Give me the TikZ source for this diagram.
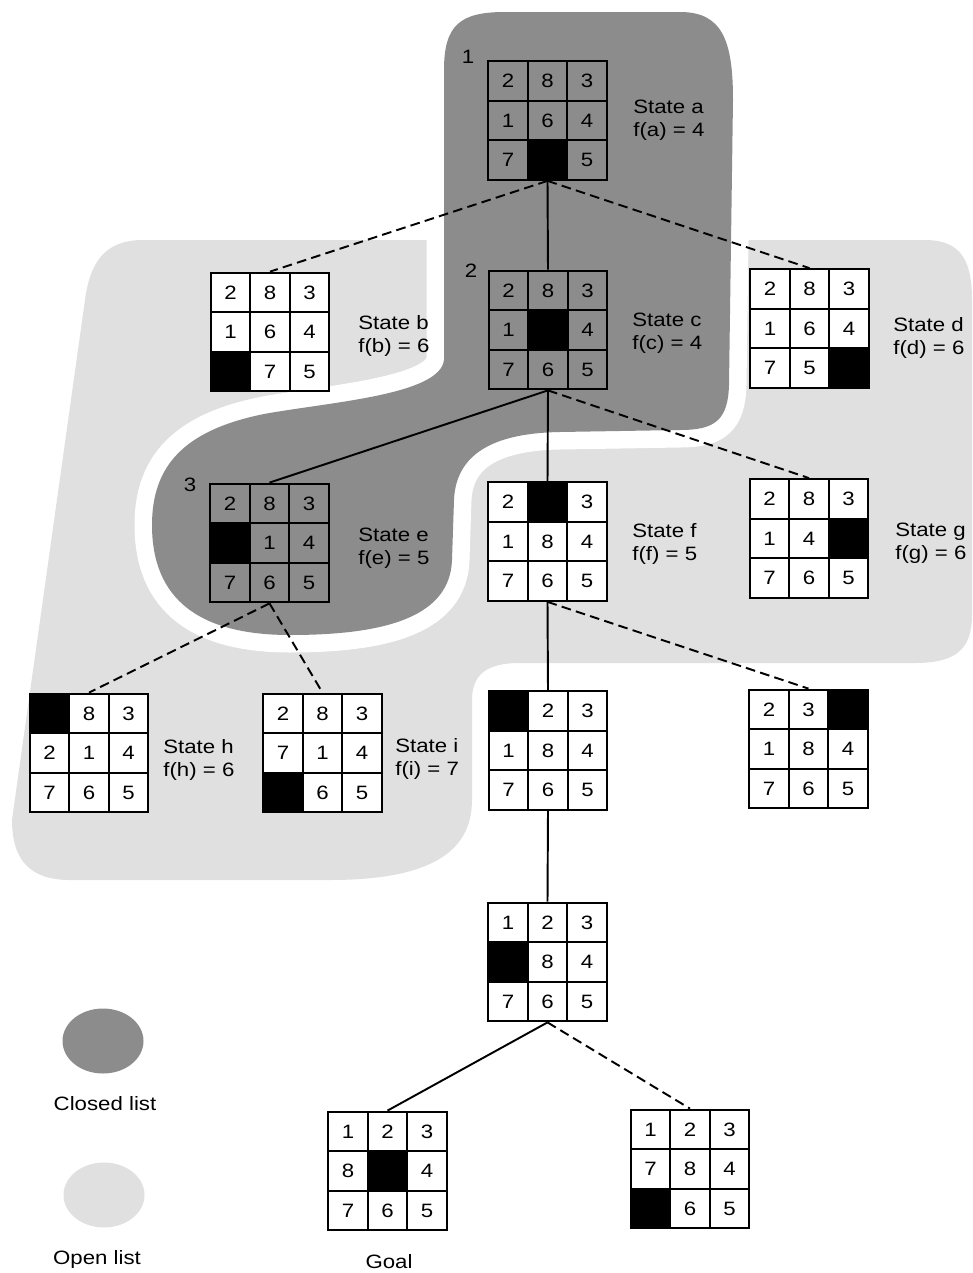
\documentclass[tikz,border=0pt]{standalone}
\usepackage{fontspec}
\setmainfont[FakeStretch=1.15]{Liberation Sans}
\usetikzlibrary{shapes.geometric, positioning, calc}
\definecolor{closedgray}{gray}{0.55}
\definecolor{opengray}{gray}{0.88}

% one 8-puzzle board: name, centre, background, nine tiles (0 = blank)
\newcommand{\board}[4]{%
  \node[board, fill=#3] (#1) at #2 {};
  \foreach \tileval [count=\k from 0] in {#4} {
    \pgfmathtruncatemacro\bcol{mod(\k,3)-1}
    \pgfmathtruncatemacro\brow{1-div(\k,3)}
    \ifnum\tileval=0
      \node[tile, fill=black] at ([xshift=\bcol*0.79cm, yshift=\brow*0.79cm]#1.center) {};
    \else
      \node[tile] at ([xshift=\bcol*0.79cm, yshift=\brow*0.79cm]#1.center) {\tileval};
    \fi
  }%
}

\begin{document}
\begin{tikzpicture}[x=0.2mm, y=-0.2mm,
  board/.style={draw, line width=1.3pt, minimum size=2.37cm, inner sep=0pt},
  tile/.style={draw, line width=0.9pt, minimum size=0.79cm, inner sep=0pt,
    font=\fontsize{11}{13}\selectfont},
  statelbl/.style={anchor=west, align=left, inner sep=0pt,
    font=\fontsize{11}{13}\selectfont},
  numlbl/.style={inner sep=0pt, font=\fontsize{11}{13}\selectfont},
  solidedge/.style={line width=1.1pt},
  dashedge/.style={line width=1.1pt, dash pattern=on 5.5pt off 3pt},
  keyblob/.style={ellipse, inner sep=0pt, minimum width=1.62cm, minimum height=1.3cm}
]
\useasboundingbox (0,0) rectangle (972,1273);
% Open list
\fill[opengray] (143,240) -- (925,240) .. controls (962,240) and (972,262) .. (972,300)
  -- (972,615) .. controls (972,650) and (955,663) .. (915,663)
  -- (520,663) .. controls (490,663) and (472,672) .. (472,700)
  -- (472,800) .. controls (472,852) and (430,880) .. (330,880)
  -- (70,880) .. controls (30,880) and (12,860) .. (12,820)
  -- (85,300) .. controls (90,262) and (105,240) .. (143,240) -- cycle;
% Closed list (white margin round it)
\path[fill=closedgray, preaction={draw=white, line width=0.7cm}]
  (444,70) .. controls (444,25) and (460,12) .. (505,12)
  -- (680,12) .. controls (722,12) and (733,40) .. (733,100)
  -- (729,385) .. controls (728,420) and (715,430) .. (680,430)
  -- (560,432) .. controls (500,433) and (456,450) .. (454,500)
  -- (452,560) .. controls (450,615) and (390,635) .. (290,635)
  .. controls (200,635) and (152,600) .. (152,525)
  .. controls (152,465) and (185,430) .. (264,414)
  .. controls (330,402) and (440,395) .. (444,360) -- cycle;
% Boards
\board{a}{(547.5,120.5)}{none}{2,8,3,1,6,4,7,0,5}
\board{b}{(270,332)}{white}{2,8,3,1,6,4,0,7,5}
\board{c}{(548,330)}{none}{2,8,3,1,0,4,7,6,5}
\board{d}{(809.5,328.5)}{white}{2,8,3,1,6,4,7,5,0}
\board{e}{(269.5,543)}{none}{2,8,3,0,1,4,7,6,5}
\board{f}{(547.5,541.5)}{white}{2,0,3,1,8,4,7,6,5}
\board{g}{(809,538.5)}{white}{2,8,3,1,4,0,7,6,5}
\board{h}{(89,753)}{white}{0,8,3,2,1,4,7,6,5}
\board{i}{(322.5,753)}{white}{2,8,3,7,1,4,0,6,5}
\board{j}{(548,750.5)}{white}{0,2,3,1,8,4,7,6,5}
\board{k}{(808.5,749)}{white}{2,3,0,1,8,4,7,6,5}
\board{l}{(547.5,962)}{white}{1,2,3,0,8,4,7,6,5}
\board{goal}{(387.5,1171)}{white}{1,2,3,8,0,4,7,6,5}
\board{m}{(690,1169)}{white}{1,2,3,7,8,4,0,6,5}
% Edges
\draw[dashedge] (a.south) -- (b.north);
\draw[solidedge] (a.south) -- (c.north);
\draw[dashedge] (a.south) -- (d.north);
\draw[solidedge] (c.south) -- (e.north);
\draw[solidedge] (c.south) -- (f.north);
\draw[dashedge] (c.south) -- (g.north);
\draw[dashedge] (e.south) -- (h.north);
\draw[dashedge] (e.south) -- (i.north);
\draw[solidedge] (f.south) -- (j.north);
\draw[dashedge] (f.south) -- (k.north);
\draw[solidedge] (j.south) -- (l.north);
\draw[solidedge] (l.south) -- (goal.north);
\draw[dashedge] (l.south) -- (m.north);
% Labels
\node[statelbl] (la) at (633,120) {State a\\f(a) = 4};
\node[statelbl] (lb) at (358,336) {State b\\f(b) = 6};
\node[statelbl] (lc) at (632,333) {State c\\f(c) = 4};
\node[statelbl] (ld) at (893,338) {State d\\f(d) = 6};
\node[statelbl] (le) at (358,548) {State e\\f(e) = 5};
\node[statelbl] (lf) at (632,544) {State f\\f(f) = 5};
\node[statelbl] (lg) at (895,543) {State g\\f(g) = 6};
\node[statelbl] (lh) at (163,760) {State h\\f(h) = 6};
\node[statelbl] (li) at (395,759) {State i\\f(i) = 7};
\node[numlbl] (n1) at (468,57) {1};
\node[numlbl] (n2) at (471,271) {2};
\node[numlbl] (n3) at (190,485) {3};
\node[numlbl] (goallbl) at (389,1262) {Goal};
% Key
\node[keyblob, fill=closedgray] (closedkey) at (103,1041) {};
\node[numlbl] (closedtxt) at (105,1104) {Closed list};
\node[keyblob, fill=opengray] (openkey) at (104,1195) {};
\node[numlbl] (opentxt) at (97,1259) {Open list};
\end{tikzpicture}
\end{document}
